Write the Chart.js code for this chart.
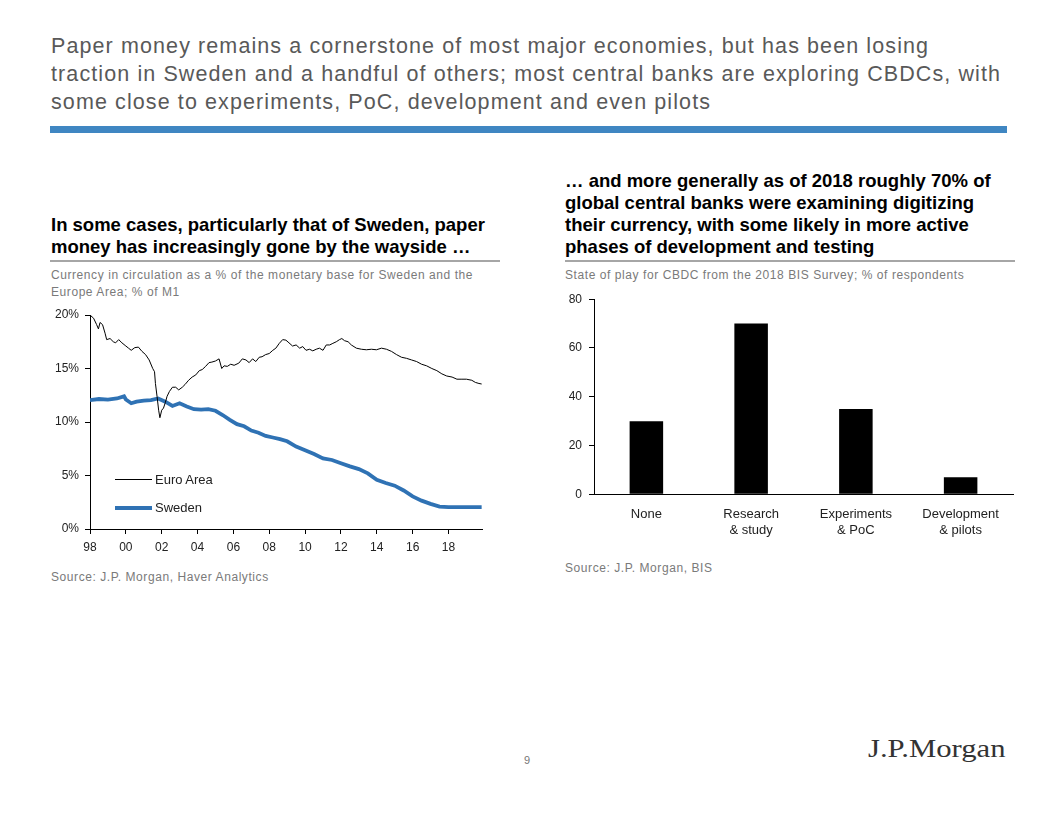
<!DOCTYPE html>
<html>
<head>
<meta charset="utf-8">
<script src="https://cdn.jsdelivr.net/npm/chart.js@4.4.1/dist/chart.umd.min.js"></script>
<style>
  html, body { margin:0; padding:0; background:#fff; }
  body { width:1056px; height:816px; position:relative; overflow:hidden; font-family:"Liberation Sans", Arial, sans-serif; }
  .abs { position:absolute; white-space:nowrap; }
  #title { left:51px; top:32px; font-size:21.5px; letter-spacing:1.1px; line-height:28px; color:#595959; }
  #bluebar { left:50px; top:126px; width:957px; height:7px; background:#3f86c2; }
  .sub { font-weight:bold; font-size:18.5px; line-height:22px; color:#000; }
  .rule { height:2px; background:#a6a6a6; }
  .cap { font-size:12px; letter-spacing:0.57px; line-height:17px; color:#7a7a7a; }
  canvas { position:absolute; }
  .leg { position:absolute; font-size:13px; color:#222; }
  .legline { position:absolute; }
</style>
</head>
<body>
<div id="title" class="abs">Paper money remains a cornerstone of most major economies, but has been losing<br>traction in Sweden and a handful of others; most central banks are exploring CBDCs, with<br>some close to experiments, PoC, development and even pilots</div>
<div id="bluebar" class="abs"></div>

<div class="abs sub" style="left:51px; top:214px;">In some cases, particularly that of Sweden, paper<br>money has increasingly gone by the wayside …</div>
<div class="abs rule" style="left:50px; top:260px; width:450px;"></div>
<div class="abs cap" style="left:51px; top:267px;">Currency in circulation as a % of the monetary base for Sweden and the<br>Europe Area; % of M1</div>

<div class="abs sub" style="left:565px; top:170px;">… and more generally as of 2018 roughly 70% of<br>global central banks were examining digitizing<br>their currency, with some likely in more active<br>phases of development and testing</div>
<div class="abs rule" style="left:565px; top:260px; width:450px;"></div>
<div class="abs cap" style="left:565px; top:267px;">State of play for CBDC from the 2018 BIS Survey; % of respondents</div>

<canvas id="lineChart" style="left:40px; top:300px;" width="460" height="265"></canvas>
<canvas id="barChart" style="left:555px; top:285px;" width="465" height="265"></canvas>

<div class="legline" style="left:115px; top:479px; width:37px; height:1px; background:#000;"></div>
<div class="leg" style="left:155px; top:472px;">Euro Area</div>
<div class="legline" style="left:115px; top:506px; width:37px; height:4px; background:#2f72b4;"></div>
<div class="leg" style="left:155px; top:500px;">Sweden</div>

<div class="abs cap" style="left:51px; top:569px;">Source: J.P. Morgan, Haver Analytics</div>
<div class="abs cap" style="left:565px; top:560px;">Source: J.P. Morgan, BIS</div>

<div class="abs" style="left:524px; top:754px; font-size:11px; color:#777;">9</div>
<div class="abs" style="left:868px; top:734px; font-family:'Liberation Serif','DejaVu Serif',serif; font-size:26px; color:#333; transform:scaleX(1.18); transform-origin:0 0;">J.P.Morgan</div>

<script>
// ---------- Left chart data ----------
const euroYears = [1998.0,1998.2,1998.37,1998.47,1998.56,1998.7,1998.84,1998.93,1999.12,1999.3,1999.43,1999.6,1999.78,2000.0,2000.15,2000.3,2000.5,2000.7,2000.9,2001.1,2001.3,2001.5,2001.6,2001.65,2001.74,2001.83,2001.9,2002.0,2002.1,2002.2,2002.3,2002.43,2002.6,2002.78,2002.95,2003.15,2003.3,2003.5,2003.7,2003.9,2004.1,2004.26,2004.45,2004.64,2004.8,2005.0,2005.2,2005.35,2005.48,2005.66,2005.85,2006.04,2006.3,2006.5,2006.7,2006.88,2007.07,2007.25,2007.44,2007.6,2007.8,2008.0,2008.2,2008.37,2008.56,2008.75,2008.93,2009.1,2009.3,2009.5,2009.7,2009.87,2010.05,2010.25,2010.43,2010.62,2010.8,2011.0,2011.18,2011.37,2011.55,2011.74,2011.92,2012.05,2012.2,2012.4,2012.58,2012.86,2013.14,2013.42,2013.7,2013.98,2014.26,2014.54,2014.82,2015.1,2015.38,2015.66,2015.94,2016.22,2016.5,2016.78,2017.07,2017.35,2017.63,2017.9,2018.2,2018.47,2018.75,2019.0,2019.3,2019.5,2019.7,2019.85];
const euroValues = [20.0,19.7,19.1,18.7,19.3,19.1,18.3,17.7,17.8,17.5,17.4,17.7,17.4,17.1,16.9,16.7,16.95,17.0,16.6,16.3,15.8,15.0,14.7,13.6,12.4,11.1,10.4,11.1,11.3,11.8,12.4,12.85,13.25,13.25,13.0,13.25,13.5,13.9,14.2,14.4,14.8,14.9,15.2,15.55,15.6,15.7,15.9,15.0,15.25,15.2,15.4,15.3,15.5,15.9,15.8,15.55,15.9,15.65,16.05,16.1,16.3,16.4,16.7,16.9,17.35,17.7,17.65,17.4,17.1,17.2,16.9,17.05,16.7,16.8,16.65,16.8,16.9,16.7,17.2,17.2,17.35,17.5,17.7,17.8,17.6,17.5,17.2,16.9,16.8,16.75,16.8,16.75,16.9,16.8,16.6,16.3,16.05,15.95,15.8,15.65,15.4,15.25,15.0,14.8,14.5,14.3,14.2,14.0,14.0,14.0,13.9,13.7,13.6,13.55];

const swedenYears = [1998.0,1998.5,1999.0,1999.5,1999.9,2000.0,2000.3,2000.6,2001.0,2001.4,2001.8,2002.2,2002.6,2003.0,2003.4,2003.8,2004.2,2004.6,2005.0,2005.4,2005.8,2006.2,2006.6,2007.0,2007.4,2007.8,2008.2,2008.6,2009.0,2009.5,2010.0,2010.5,2011.0,2011.5,2012.0,2012.5,2013.0,2013.5,2014.0,2014.5,2015.0,2015.5,2016.0,2016.5,2017.0,2017.5,2018.0,2018.5,2019.0,2019.85];
const swedenValues = [12.05,12.15,12.1,12.2,12.4,12.1,11.75,11.9,12.0,12.05,12.2,11.9,11.5,11.75,11.45,11.2,11.15,11.2,11.05,10.65,10.2,9.8,9.6,9.2,9.0,8.7,8.55,8.4,8.2,7.7,7.35,7.0,6.6,6.45,6.15,5.85,5.6,5.2,4.6,4.3,4.05,3.6,3.05,2.65,2.35,2.1,2.05,2.05,2.05,2.05];

const lineYTicks = [0, 5, 10, 15, 20];
const lineXTicks = [1998, 2000, 2002, 2004, 2006, 2008, 2010, 2012, 2014, 2016, 2018];

// ---------- Right chart data ----------
const cbdcCategories = [["None"], ["Research", "& study"], ["Experiments", "& PoC"], ["Development", "& pilots"]];
const cbdcValues = [30, 70, 35, 7];
const barYTicks = [0, 20, 40, 60, 80];

Chart.defaults.font.family = "'Liberation Sans',Arial,sans-serif";
Chart.defaults.color = '#222';

function toPts(xs, ys) { return xs.map((x, i) => ({ x: x, y: ys[i] })); }

new Chart(document.getElementById('lineChart'), {
  type: 'line',
  data: {
    datasets: [
      { label: 'Euro Area', data: toPts(euroYears, euroValues), borderColor: '#000', borderWidth: 1, pointRadius: 0, tension: 0 },
      { label: 'Sweden', data: toPts(swedenYears, swedenValues), borderColor: '#2f72b4', borderWidth: 3.8, pointRadius: 0, tension: 0 }
    ]
  },
  options: {
    responsive: false, animation: false, events: [],
    layout: { padding: { top: 15, right: 18, left: 0, bottom: 0 } },
    plugins: { legend: { display: false }, tooltip: { enabled: false } },
    scales: {
      x: {
        type: 'linear', min: 1998, max: 2019.87,
        afterBuildTicks: s => { s.ticks = lineXTicks.map(v => ({ value: v })); },
        afterFit: s => { s.height = 36; },
        grid: { display: true, drawOnChartArea: false, drawTicks: true, tickLength: 5, color: '#000' },
        border: { display: true, color: '#000', width: 1 },
        ticks: { font: { size: 12 }, color: '#222', padding: 6, maxRotation: 0, autoSkip: false,
          callback: v => String(v % 100).padStart(2, '0') }
      },
      y: {
        min: 0, max: 20,
        afterBuildTicks: s => { s.ticks = lineYTicks.map(v => ({ value: v })); },
        afterFit: s => { s.width = 50; },
        grid: { display: true, drawOnChartArea: false, drawTicks: true, tickLength: 5, color: '#000' },
        border: { display: true, color: '#000', width: 1 },
        ticks: { font: { size: 12 }, color: '#222', padding: 6, callback: v => v + '%' }
      }
    }
  }
});

new Chart(document.getElementById('barChart'), {
  type: 'bar',
  data: {
    labels: cbdcCategories,
    datasets: [{ data: cbdcValues, backgroundColor: '#000', borderWidth: 0, barPercentage: 0.32, categoryPercentage: 1.0 }]
  },
  options: {
    responsive: false, animation: false, events: [],
    layout: { padding: { top: 12, right: 7, left: 0, bottom: 0 } },
    plugins: { legend: { display: false }, tooltip: { enabled: false } },
    scales: {
      x: {
        afterFit: s => { s.height = 55.7; },
        grid: { display: false, drawTicks: false },
        border: { display: true, color: '#000', width: 1 },
        ticks: { font: { size: 13, lineHeight: 1.25 }, color: '#222', padding: 12, maxRotation: 0, autoSkip: false }
      },
      y: {
        min: 0, max: 80,
        afterBuildTicks: s => { s.ticks = barYTicks.map(v => ({ value: v })); },
        afterFit: s => { s.width = 39; },
        grid: { display: true, drawOnChartArea: false, drawTicks: true, tickLength: 5, color: '#000' },
        border: { display: true, color: '#000', width: 1 },
        ticks: { font: { size: 12 }, color: '#222', padding: 7 }
      }
    }
  }
});
</script>
</body>
</html>
